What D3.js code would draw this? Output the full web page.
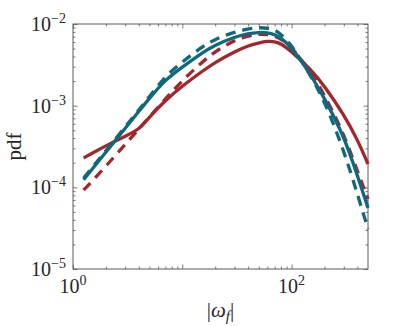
<!DOCTYPE html>
<html>

<head>
    <meta charset="utf-8">
    <style>
        body {
            margin: 0;
            background: #fff;
        }

        text {
            font-family: "Liberation Serif", "Times New Roman", "DejaVu Serif", serif;
        }

        .axis .domain {
            display: none;
        }

        .axis .tick line {
            stroke: #5a5a5a;
            stroke-width: 0.8;
        }

        .tick-label {
            font-size: 20px;
            fill: #262626;
        }

        .axis-label {
            font-size: 21px;
            fill: #262626;
        }
    </style>
</head>

<body>
    <svg width="407" height="326"></svg>

    <script src="https://d3js.org/d3.v7.min.js"></script>
    <script>
        // values
        let xValues = [1.25, 1.5, 2, 3, 4, 5, 7, 10, 15, 20, 30, 40, 50, 60, 70, 80, 100, 150, 200, 300, 400, 500]

        let tealSolid = [1.24e-4, 1.68e-4, 2.70e-4, 5.27e-4, 8.51e-4, 1.23e-3, 2.09e-3, 2.97e-3, 4.41e-3, 5.53e-3,
            6.93e-3, 7.65e-3, 7.90e-3, 7.87e-3, 7.44e-3, 6.74e-3, 5.22e-3, 2.39e-3, 1.23e-3, 4.30e-4, 1.40e-4, 5.58e-5]

        let tealDashed = [1.30e-4, 1.75e-4, 2.82e-4, 5.48e-4, 8.85e-4, 1.29e-3, 2.31e-3, 3.43e-3, 5.22e-3, 6.55e-3,
            7.98e-3, 8.69e-3, 9.06e-3, 8.93e-3, 8.45e-3, 7.55e-3, 5.53e-3, 2.31e-3, 1.14e-3, 2.86e-4, 8.28e-5, 3.09e-5]

        let redSolid = [2.29e-4, 2.62e-4, 3.23e-4, 4.24e-4, 5.04e-4, 7.29e-4, 1.16e-3, 1.74e-3, 2.61e-3, 3.40e-3,
            4.59e-3, 5.42e-3, 5.85e-3, 6.19e-3, 6.10e-3, 5.77e-3, 4.60e-3, 2.80e-3, 1.74e-3, 7.82e-4, 3.86e-4, 1.93e-4]

        let redDashed = [9.27e-5, 1.19e-4, 1.82e-4, 3.35e-4, 5.18e-4, 7.26e-4, 1.21e-3, 2.03e-3, 3.38e-3, 4.60e-3,
            6.37e-3, 7.13e-3, 7.55e-3, 7.44e-3, 7.13e-3, 6.55e-3, 5.22e-3, 2.59e-3, 1.35e-3, 4.56e-4, 1.58e-4, 7.19e-5]

        let xTickLabels = [{ v: 1, exp: "0" }, { v: 100, exp: "2" }]
        let yTickLabels = [{ v: 1e-2, exp: "−2" }, { v: 1e-3, exp: "−3" }, { v: 1e-4, exp: "−4" }, { v: 1e-5, exp: "−5" }]

        let teal = "#10697a"
        let red = "#a3262c"

        let margin = { top: 24, right: 39, bottom: 57, left: 73 }
        let width = 407
        let height = 326

        let svg = d3.select("svg")

        let x = d3.scaleLog()
            .domain([1, 500])
            .range([margin.left, width - margin.right])

        let y = d3.scaleLog()
            .domain([1e-5, 1e-2])
            .range([height - margin.bottom, margin.top])

        // minor tick values between decades
        let xMinor = []
        for (let d = 1; d <= 100; d *= 10) {
            for (let k = 2; k <= 9; k++) {
                if (d * k < 500) xMinor.push(d * k)
            }
        }
        let yMinor = []
        for (let d = 1e-5; d < 1e-2; d *= 10) {
            for (let k = 2; k <= 9; k++) yMinor.push(d * k)
        }

        let xMajor = [1, 10, 100]
        let yMajor = [1e-5, 1e-4, 1e-3, 1e-2]

        function addAxis(axisFn, scale, values, size, transform) {
            svg.append("g")
                .attr("class", "axis")
                .attr("transform", transform)
                .call(axisFn(scale).tickValues(values).tickSize(size).tickFormat(""))
        }

        let bottomT = `translate(0,${height - margin.bottom})`
        let topT = `translate(0,${margin.top})`
        let leftT = `translate(${margin.left},0)`
        let rightT = `translate(${width - margin.right},0)`

        addAxis(d3.axisBottom, x, xMajor, -4.5, bottomT)
        addAxis(d3.axisBottom, x, xMinor, -2.5, bottomT)
        addAxis(d3.axisTop, x, xMajor, -4.5, topT)
        addAxis(d3.axisTop, x, xMinor, -2.5, topT)
        addAxis(d3.axisLeft, y, yMajor, -4.5, leftT)
        addAxis(d3.axisLeft, y, yMinor, -2.5, leftT)
        addAxis(d3.axisRight, y, yMajor, -4.5, rightT)
        addAxis(d3.axisRight, y, yMinor, -2.5, rightT)

        // box
        svg.append("rect")
            .attr("x", margin.left)
            .attr("y", margin.top)
            .attr("width", width - margin.left - margin.right)
            .attr("height", height - margin.top - margin.bottom)
            .attr("fill", "none")
            .attr("stroke", "#5a5a5a")
            .attr("stroke-width", 1)

        // tick labels with superscripts
        let xt = svg.append("g")
            .selectAll("text")
            .data(xTickLabels)
            .join("text")
            .attr("class", "tick-label")
            .attr("x", d => x(d.v))
            .attr("y", height - margin.bottom + 24)
            .attr("text-anchor", "middle")
        xt.append("tspan").text("10")
        xt.append("tspan").attr("dy", -8).attr("font-size", 14).text(d => d.exp)

        let yt = svg.append("g")
            .selectAll("text")
            .data(yTickLabels)
            .join("text")
            .attr("class", "tick-label")
            .attr("x", margin.left - 7)
            .attr("y", d => y(d.v) + 7)
            .attr("text-anchor", "end")
        yt.append("tspan").text("10")
        yt.append("tspan").attr("dy", -8).attr("font-size", 14).text(d => d.exp)

        // curves
        let line = d3.line()
            .x(d => x(d[0]))
            .y(d => y(d[1]))
            .curve(d3.curveBasis)

        let series = [
            { vals: redSolid, color: red, dash: null },
            { vals: redDashed, color: red, dash: "10,7" },
            { vals: tealSolid, color: teal, dash: null },
            { vals: tealDashed, color: teal, dash: "10,7" }
        ]

        let plot = svg.append("g")
        plot.selectAll("path")
            .data(series)
            .join("path")
            .attr("fill", "none")
            .attr("stroke", d => d.color)
            .attr("stroke-width", 3.3)
            .attr("stroke-dasharray", d => d.dash)
            .attr("d", d => line(xValues.map((v, i) => [v, d.vals[i]])))

        // axis labels
        svg.append("text")
            .attr("class", "axis-label")
            .attr("transform", `translate(21,${(margin.top + height - margin.bottom) / 2}) rotate(-90)`)
            .attr("text-anchor", "middle")
            .text("pdf")

        let xl = svg.append("text")
            .attr("class", "axis-label")
            .attr("x", (margin.left + width - margin.right) / 2)
            .attr("y", 317)
            .attr("text-anchor", "middle")
        xl.append("tspan").text("|")
        xl.append("tspan").attr("font-style", "italic").text("ω")
        xl.append("tspan").attr("font-style", "italic").attr("font-size", 15).attr("dy", 4).text("f")
        xl.append("tspan").attr("dy", -4).text("|")
    </script>
</body>

</html>
